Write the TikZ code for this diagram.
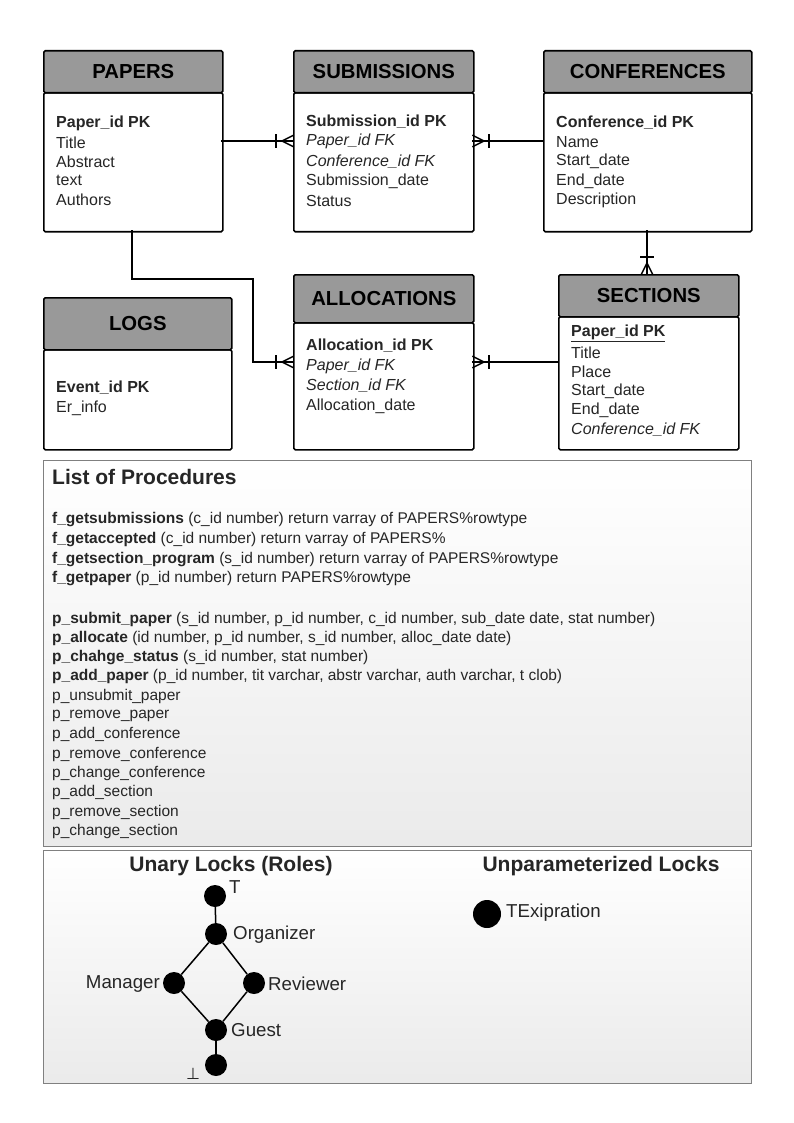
\documentclass[tikz,border=0pt]{standalone}
\usepackage{fontspec}
\setmainfont{Liberation Sans}
\newfontfamily\djv{DejaVu Sans}
\definecolor{hdrgray}{HTML}{999999}
\definecolor{txt}{HTML}{262626}
\definecolor{panelborder}{HTML}{808080}
\newcommand\crowW[1]{%
  \draw[conn] (#1) ++(0,-5.5) -- ++(-11,5.5) -- ++(11,5.5);
  \draw[conn] (#1) ++(-17,-6.5) -- ++(0,13);}
\newcommand\crowE[1]{%
  \draw[conn] (#1) ++(0,-5.5) -- ++(11,5.5) -- ++(-11,5.5);
  \draw[conn] (#1) ++(16,-6.5) -- ++(0,13);}
\newcommand\crowN[1]{%
  \draw[conn] (#1) ++(-5.5,0) -- ++(5.5,-11) -- ++(5.5,11);
  \draw[conn] (#1) ++(-6.5,-17) -- ++(13,0);}
\begin{document}
\begin{tikzpicture}[x=1pt,y=-1pt,
  hdr/.style={draw=black, line width=1.6pt, fill=hdrgray, rounded corners=1.5pt, anchor=north west, inner sep=0, font=\bfseries\fontsize{20.3}{22}\selectfont, text=black},
  bodybox/.style={draw=black, line width=1.6pt, fill=white, rounded corners=1.5pt, anchor=north west, inner sep=0},
  attr/.style={anchor=west, inner sep=0, font=\fontsize{16}{18}\selectfont, text=txt},
  conn/.style={line width=1.5pt, line cap=rect},
  panel/.style={draw=panelborder, line width=0.8pt, top color=white, bottom color=black!8, anchor=north west, inner sep=0},
  ptitle/.style={inner sep=0, font=\bfseries\fontsize{21}{23}\selectfont, text=txt},
  proc/.style={anchor=west, inner sep=0, font=\fontsize{15.5}{17}\selectfont, text=txt},
  dot/.style={circle, fill=black, minimum size=22pt, inner sep=0},
  lbl/.style={inner sep=0, font=\fontsize{18.7}{20}\selectfont, text=txt},
  edge/.style={line width=1.5pt}]
\useasboundingbox[fill=white] (0,0) rectangle (794,1123);

% ---------- panels ----------
\node[panel, minimum width=708pt, minimum height=386pt] (procs) at (43,460) {};
\node[panel, minimum width=708pt, minimum height=233pt] (locks) at (43,850) {};

% ---------- entities ----------
\node[bodybox, minimum width=179pt, minimum height=139pt] (papB) at (43,92) {};
\node[hdr, minimum width=179pt, minimum height=42pt] (papH) at (43,50) {PAPERS};
\node[bodybox, minimum width=180pt, minimum height=139pt] (subB) at (293,92) {};
\node[hdr, minimum width=180pt, minimum height=42pt] (subH) at (293,50) {SUBMISSIONS};
\node[bodybox, minimum width=208pt, minimum height=139pt] (conB) at (543,92) {};
\node[hdr, minimum width=208pt, minimum height=42pt] (conH) at (543,50) {CONFERENCES};
\node[bodybox, minimum width=188pt, minimum height=100pt] (logB) at (43,349) {};
\node[hdr, minimum width=188pt, minimum height=52pt] (logH) at (43,297) {LOGS};
\node[bodybox, minimum width=180pt, minimum height=127pt] (alloB) at (293,322) {};
\node[hdr, minimum width=180pt, minimum height=48pt] (alloH) at (293,274) {ALLOCATIONS};
\node[bodybox, minimum width=180pt, minimum height=133pt] (secB) at (558,316) {};
\node[hdr, minimum width=180pt, minimum height=42pt] (secH) at (558,274) {SECTIONS};

% ---------- attributes ----------
\foreach \t [count=\i from 0] in {\textbf{Paper\_id PK},Title,Abstract,text,Authors}
  \node[attr] (pa\i) at (56,123+19.3*\i) {\t};
\foreach \t [count=\i from 0] in {\textbf{Submission\_id PK},\textit{Paper\_id FK},\textit{Conference\_id FK},Submission\_date,Status}
  \node[attr] (sa\i) at (306,122+19.7*\i) {\t};
\foreach \t [count=\i from 0] in {\textbf{Conference\_id PK},Name,Start\_date,End\_date,Description}
  \node[attr] (ca\i) at (556,123+19.3*\i) {\t};
\foreach \t [count=\i from 0] in {\textbf{Event\_id PK},Er\_info}
  \node[attr] (la\i) at (56,388+20.5*\i) {\t};
\foreach \t [count=\i from 0] in {\textbf{Allocation\_id PK},\textit{Paper\_id FK},\textit{Section\_id FK},Allocation\_date}
  \node[attr] (aa\i) at (306,346+20*\i) {\t};
\foreach \t [count=\i from 0] in {\textbf{\underline{Paper\_id PK}},Title,Place,Start\_date,End\_date,\textit{Conference\_id FK}}
  \node[attr] (xa\i) at (571,333+19.4*\i) {\t};

% ---------- connectors ----------
\coordinate (k1) at (222,141);
\coordinate (k2) at (473,141);
\draw[conn] (k1) -- (subB.west |- k1);
\crowW{subB.west |- k1}
\draw[conn] (k2) -- (conB.west |- k2);
\crowE{k2}
\coordinate (k3) at (647,231);
\draw[conn] (k3) -- (k3 |- secH.north);
\crowN{k3 |- secH.north}
\coordinate (k4) at (132,231);
\coordinate (k5) at (253,362);
\draw[conn] (k4) -- ++(0,48) -| (k5) -- (alloB.west |- k5);
\crowW{alloB.west |- k5}
\coordinate (k6) at (473,362);
\draw[conn] (k6) -- (secB.west |- k6);
\crowE{k6}

% ---------- procedures ----------
\node[ptitle, anchor=west] (ptit) at (52,477) {List of Procedures};
\foreach \t [count=\i from 0] in {
  {\textbf{f\_getsubmissions} (c\_id number) return varray of PAPERS\%rowtype},
  {\textbf{f\_getaccepted} (c\_id number) return varray of PAPERS\%},
  {\textbf{f\_getsection\_program} (s\_id number) return varray of PAPERS\%rowtype},
  {\textbf{f\_getpaper} (p\_id number) return PAPERS\%rowtype}}
  \node[proc] (f\i) at (52,520+19.6*\i) {\t};
\foreach \t [count=\i from 0] in {
  {\textbf{p\_submit\_paper} (s\_id number, p\_id number, c\_id number, sub\_date date, stat number)},
  {\textbf{p\_allocate} (id number, p\_id number, s\_id number, alloc\_date date)},
  {\textbf{p\_chahge\_status} (s\_id number, stat number)},
  {\textbf{p\_add\_paper} (p\_id number, tit varchar, abstr varchar, auth varchar, t clob)},
  p\_unsubmit\_paper, p\_remove\_paper, p\_add\_conference, p\_remove\_conference,
  p\_change\_conference, p\_add\_section, p\_remove\_section, p\_change\_section}
  \node[proc] (q\i) at (52,619+19.3*\i) {\t};

% ---------- locks ----------
\node[ptitle] (utit) at (231,866) {Unary Locks (Roles)};
\node[ptitle] (ntit) at (601,866) {Unparameterized Locks};
\node[dot] (lt) at (215,896) {};
\node[dot] (lo) at (216,934) {};
\node[dot] (lm) at (174,983) {};
\node[dot] (lr) at (254,983) {};
\node[dot] (lg) at (216,1030) {};
\node[dot] (lb) at (216,1065) {};
\node[dot, minimum size=28pt] (lx) at (487,914) {};
\draw[edge] (lt) -- (lo);
\draw[edge] (lo) -- (lm);
\draw[edge] (lo) -- (lr);
\draw[edge] (lm) -- (lg);
\draw[edge] (lr) -- (lg);
\draw[edge] (lg) -- (lb);
\node[lbl, anchor=west] (ltl) at (229,887) {T};
\node[lbl, anchor=west] (lol) at (233,935) {Organizer};
\node[lbl, anchor=east] (lml) at (160,984) {Manager};
\node[lbl, anchor=west] (lrl) at (268,984) {Reviewer};
\node[lbl, anchor=west] (lgl) at (231,1030) {Guest};
\node[lbl, anchor=center] (lbl1) at (193,1074) {\djv\fontsize{16}{18}\selectfont ⊥};
\node[lbl, anchor=west] (lxl) at (506,913) {TExipration};
\end{tikzpicture}
\end{document}
